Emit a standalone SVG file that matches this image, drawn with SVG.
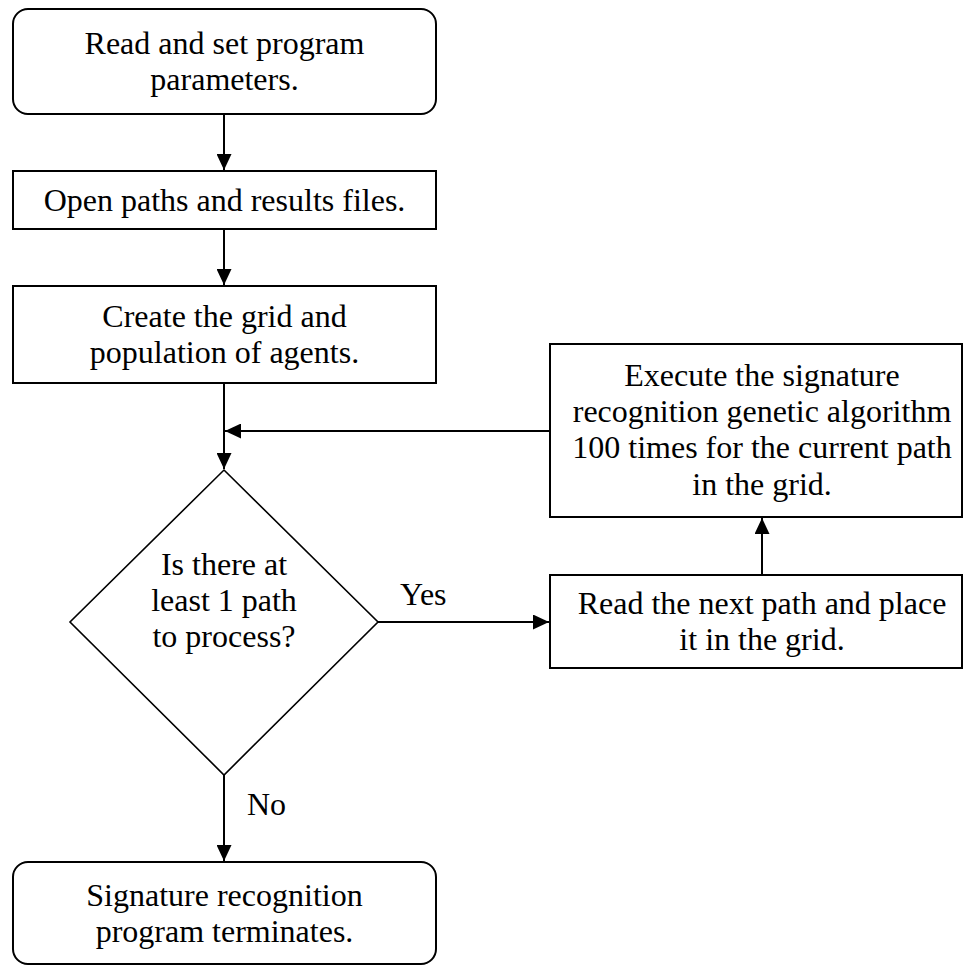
<svg xmlns="http://www.w3.org/2000/svg" width="964" height="966" viewBox="0 0 964 966">
  <style>
    .box { fill: #ffffff; stroke: #000000; stroke-width: 2; }
    .dia { fill: #ffffff; stroke: #000000; stroke-width: 1.6; }
    .txt { font-family: "Liberation Serif", "Times New Roman", serif; font-size: 32px; fill: #000000; }
    .mid { text-anchor: middle; }
    .edge { fill: none; stroke: #000000; stroke-width: 2; marker-end: url(#arrow); }
  </style>
  <defs>
    <marker id="arrow" viewBox="0 0 16 15" refX="16" refY="7.5" markerWidth="16" markerHeight="15" markerUnits="userSpaceOnUse" orient="auto">
      <path d="M0,0 L16,7.5 L0,15 z" fill="#000000"/>
    </marker>
  </defs>
  <rect width="964" height="966" fill="#ffffff"/>

  <!-- connectors -->
  <g id="connectors">
    <path class="edge" d="M224,114 V170"/>
    <path class="edge" d="M224,229 V285"/>
    <path class="edge" d="M224,383 V469"/>
    <path class="edge" d="M550,431 H225"/>
    <path class="edge" d="M378,622 H549"/>
    <path class="edge" d="M762,575 V518"/>
    <path class="edge" d="M224,775 V861"/>
    <text class="txt" x="400" y="605">Yes</text>
    <text class="txt" x="247" y="815">No</text>
  </g>

  <!-- start -->
  <g id="start">
    <rect class="box" x="13" y="9" width="423" height="105" rx="15" ry="15"/>
    <text class="txt mid" x="224.5" y="54">Read and set program</text>
    <text class="txt mid" x="224.5" y="90">parameters.</text>
  </g>

  <g id="open-files">
    <rect class="box" x="13" y="171" width="423" height="58"/>
    <text class="txt mid" x="224.5" y="211">Open paths and results files.</text>
  </g>

  <g id="create-grid">
    <rect class="box" x="13" y="286" width="423" height="97"/>
    <text class="txt mid" x="224.5" y="327">Create the grid and</text>
    <text class="txt mid" x="224.5" y="363">population of agents.</text>
  </g>

  <g id="decision">
    <polygon class="dia" points="224,470 378,622 224,775 70,622"/>
    <text class="txt mid" x="224" y="575">Is there at</text>
    <text class="txt mid" x="224" y="611">least 1 path</text>
    <text class="txt mid" x="224" y="647">to process?</text>
  </g>

  <g id="execute-ga">
    <rect class="box" x="550" y="344" width="412" height="173"/>
    <text class="txt mid" x="762" y="386">Execute the signature</text>
    <text class="txt mid" x="762" y="422">recognition genetic algorithm</text>
    <text class="txt mid" x="762" y="458">100 times for the current path</text>
    <text class="txt mid" x="762" y="495">in the grid.</text>
  </g>

  <g id="read-path">
    <rect class="box" x="550" y="575" width="412" height="93"/>
    <text class="txt mid" x="762" y="614">Read the next path and place</text>
    <text class="txt mid" x="762" y="650">it in the grid.</text>
  </g>

  <g id="end">
    <rect class="box" x="13" y="862" width="423" height="102" rx="15" ry="15"/>
    <text class="txt mid" x="224.5" y="906">Signature recognition</text>
    <text class="txt mid" x="224.5" y="942">program terminates.</text>
  </g>
</svg>
